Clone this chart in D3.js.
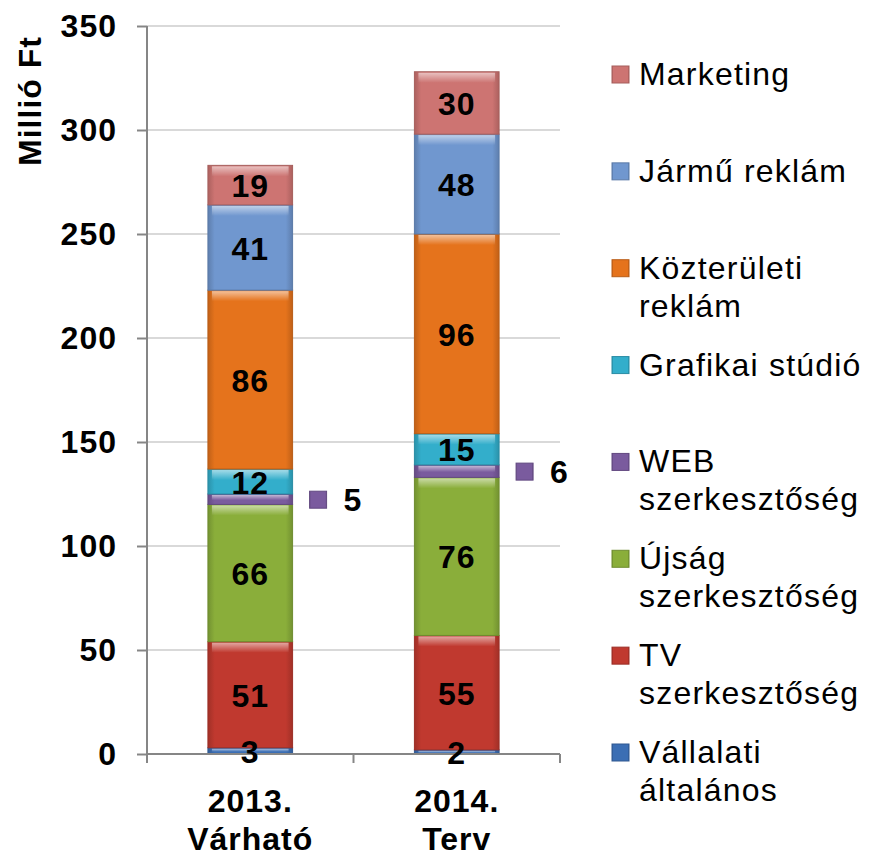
<!DOCTYPE html>
<html lang="hu">
<meta charset="UTF-8">
<title>Millió Ft</title>
<script src="https://d3js.org/d3.v7.min.js"></script>
<style>
  body { margin: 0; background: #fff; }
  text { font-family: Arial, "Liberation Sans", sans-serif; fill: #000; }
  .big { font-size: 32px; font-weight: bold; letter-spacing: 1px; }
  .leg { font-size: 32px; letter-spacing: 1.2px; }
</style>
<body>
<svg id="chart" width="870" height="852"></svg>
<script>
// data
var categories = ["2013. Várható", "2014. Terv"];
var series = ["Vállalati általános", "TV szerkesztőség", "Újság szerkesztőség", "WEB szerkesztőség",
              "Grafikai stúdió", "Közterületi reklám", "Jármű reklám", "Marketing"];
var vallalati = [3, 2];
var tv = [51, 55];
var ujsag = [66, 76];
var web = [5, 6];
var grafikai = [12, 15];
var kozteruleti = [86, 96];
var jarmu = [41, 48];
var marketing = [19, 30];
var yTicks = [0, 50, 100, 150, 200, 250, 300, 350];
var colors = ["#3b6eb4", "#c0392f", "#8aae3a", "#7a5b9e", "#33aecb", "#e5731c", "#7097cf", "#cd7472"];

(function() {
var values = [vallalati, tv, ujsag, web, grafikai, kozteruleti, jarmu, marketing];
var rows = categories.map(function(c, i) {
  var r = { cat: c };
  series.forEach(function(s, j) { r[s] = values[j][i]; });
  return r;
});

var svg = d3.select("#chart");
var pl = 147, pr = 560, pt = 26, pb = 754;

var x = d3.scaleBand().domain(categories).range([pl, pr]).paddingInner(0.59).paddingOuter(0.295);
var y = d3.scaleLinear().domain([0, 350]).range([pb, pt]);

// gradients
var defs = svg.append("defs");
colors.forEach(function(c, i) {
  var g = defs.append("linearGradient").attr("id", "g" + i).attr("x1", 0).attr("x2", 1).attr("y1", 0).attr("y2", 0);
  var dark = d3.color(c).darker(0.5);
  g.append("stop").attr("offset", "0%").attr("stop-color", dark);
  g.append("stop").attr("offset", "8%").attr("stop-color", c);
  g.append("stop").attr("offset", "92%").attr("stop-color", c);
  g.append("stop").attr("offset", "100%").attr("stop-color", dark);
});
var hl = defs.append("linearGradient").attr("id", "hl").attr("x1", 0).attr("x2", 0).attr("y1", 0).attr("y2", 1);
hl.append("stop").attr("offset", "0%").attr("stop-color", "#fff").attr("stop-opacity", 0.55);
hl.append("stop").attr("offset", "100%").attr("stop-color", "#fff").attr("stop-opacity", 0);

// gridlines
svg.append("g").selectAll("line").data(yTicks.slice(1)).enter().append("line")
  .attr("x1", pl).attr("x2", pr)
  .attr("y1", function(d) { return y(d); }).attr("y2", function(d) { return y(d); })
  .attr("stroke", "#d9d9d9").attr("stroke-width", 2);

// y axis
var yAxis = svg.append("g").attr("transform", "translate(" + pl + ",0)")
  .call(d3.axisLeft(y).tickValues(yTicks).tickSize(10).tickPadding(20));
yAxis.select(".domain").remove();
yAxis.selectAll("line").attr("stroke", "#868686").attr("stroke-width", 2);
yAxis.selectAll("text").attr("class", "big").attr("font-family", null).attr("font-size", null);
svg.append("line").attr("x1", pl).attr("x2", pl).attr("y1", pt).attr("y2", pb + 9)
  .attr("stroke", "#868686").attr("stroke-width", 2);

svg.append("text").attr("class", "big")
  .attr("transform", "translate(41,101) rotate(-90)")
  .attr("text-anchor", "middle")
  .text("Millió Ft");

// stacked bars
var stack = d3.stack().keys(series)(rows);
var layers = svg.append("g").selectAll("g").data(stack).enter().append("g");
layers.each(function(layer, i) {
  var g = d3.select(this);
  layer.forEach(function(d) {
    var x0 = x(d.data.cat), w = x.bandwidth();
    var y0 = y(d[1]), h = y(d[0]) - y(d[1]);
    g.append("rect").attr("x", x0).attr("y", y0).attr("width", w).attr("height", h)
      .attr("fill", "url(#g" + i + ")")
      .attr("stroke", d3.color(colors[i]).darker(0.6)).attr("stroke-width", 1);
    g.append("rect").attr("x", x0 + 4).attr("y", y0 + 1).attr("width", w - 8).attr("height", Math.min(10, h / 2))
      .attr("fill", "url(#hl)");
  });
});

// x axis
svg.append("line").attr("x1", pl).attr("x2", pr).attr("y1", pb).attr("y2", pb)
  .attr("stroke", "#868686").attr("stroke-width", 2);
var edges = [pl, (pl + pr) / 2, pr];
svg.append("g").selectAll("line").data(edges).enter().append("line")
  .attr("x1", function(d) { return d; }).attr("x2", function(d) { return d; })
  .attr("y1", pb).attr("y2", pb + 9)
  .attr("stroke", "#868686").attr("stroke-width", 2);

categories.forEach(function(c) {
  var parts = c.split(" ");
  var t = svg.append("text").attr("class", "big").attr("text-anchor", "middle");
  parts.forEach(function(p, k) {
    t.append("tspan").attr("x", x(c) + x.bandwidth() / 2).attr("y", 812 + k * 38).text(p);
  });
});

// data labels
stack.forEach(function(layer, i) {
  layer.forEach(function(d) {
    var v = d[1] - d[0];
    var cx = x(d.data.cat) + x.bandwidth() / 2;
    var cy = y((d[0] + d[1]) / 2);
    if (series[i] === "WEB szerkesztőség") {
      var bx = x(d.data.cat) + x.bandwidth() + 17;
      svg.append("rect").attr("x", bx).attr("y", cy - 8).attr("width", 17).attr("height", 17)
        .attr("fill", "url(#g" + i + ")").attr("stroke", d3.color(colors[i]).darker(0.6));
      svg.append("text").attr("class", "big").attr("x", bx + 34).attr("y", cy + 12).text(v);
    } else {
      svg.append("text").attr("class", "big").attr("x", cx).attr("y", cy + 12).attr("text-anchor", "middle").text(v);
    }
  });
});

// legend (top to bottom, reversed series order)
var legendItems = series.slice().reverse();
var legendLabels = {
  "Marketing": ["Marketing"],
  "Jármű reklám": ["Jármű reklám"],
  "Közterületi reklám": ["Közterületi", "reklám"],
  "Grafikai stúdió": ["Grafikai stúdió"],
  "WEB szerkesztőség": ["WEB", "szerkesztőség"],
  "Újság szerkesztőség": ["Újság", "szerkesztőség"],
  "TV szerkesztőség": ["TV", "szerkesztőség"],
  "Vállalati általános": ["Vállalati", "általános"]
};
var ly = d3.scalePoint().domain(legendItems).range([74, 752]);
legendItems.forEach(function(s) {
  var i = series.indexOf(s);
  svg.append("rect").attr("x", 612).attr("y", ly(s) - 8).attr("width", 17).attr("height", 17)
    .attr("fill", "url(#g" + i + ")").attr("stroke", d3.color(colors[i]).darker(0.6));
  var t = svg.append("text").attr("class", "leg");
  legendLabels[s].forEach(function(p, k) {
    t.append("tspan").attr("x", 639).attr("y", ly(s) + 11 + k * 38).text(p);
  });
});
})();
</script>
</body>
</html>
